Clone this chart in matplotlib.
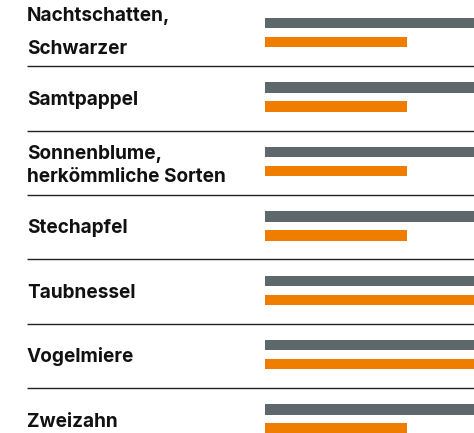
import matplotlib.pyplot as plt

plt.rcParams['font.family'] = ['Inter', 'DejaVu Sans']

# Unkräuter mit zwei Kennwerten je Art
weeds = ["Nachtschatten,\nSchwarzer", "Samtpappel",
         "Sonnenblume,\nherkömmliche Sorten", "Stechapfel",
         "Taubnessel", "Vogelmiere", "Zweizahn"]
grey_values = [3, 3, 3, 3, 3, 3, 3]
orange_values = [2, 2, 2, 2, 3, 3, 2]

GREY = "#5e686c"
ORANGE = "#ef7d00"

W, H = 474, 433
fig = plt.figure(figsize=(W / 100, H / 100), dpi=100)

# pixel-based frame for labels and separators
ax = fig.add_axes([0, 0, 1, 1])
ax.set_xlim(0, W)
ax.set_ylim(H, 0)
ax.axis("off")

# bar area starts at x=265
bar_left = 265
bx = fig.add_axes([bar_left / W, 0, 1 - bar_left / W, 1])
bx.set_xlim(0, 2.94)
bx.set_ylim(H, 0)
bx.axis("off")

top = 23.2
pitch = 64.4
bar_h = 10.5
FS = 13.7

for i, name in enumerate(weeds):
    g = top + i * pitch
    bx.barh(g, grey_values[i], height=bar_h, color=GREY, left=0)
    bx.barh(g + 19, orange_values[i], height=bar_h, color=ORANGE, left=0)

    lines = name.split("\n")
    if len(lines) == 1:
        ax.text(27, g + 17, name, fontsize=FS, fontweight="bold",
                color="#111111", va="baseline", ha="left")
    else:
        # first row has wider line spacing than the others
        gap = 33 if i == 0 else 23
        first = g - 2 if i == 0 else g + 7
        ax.text(27, first, lines[0], fontsize=FS, fontweight="bold",
                color="#111111", va="baseline", ha="left")
        ax.text(27, first + gap, lines[1], fontsize=FS, fontweight="bold",
                color="#111111", va="baseline", ha="left")

    if i < len(weeds) - 1:
        ax.plot([27, W], [g + 43, g + 43], color="#222222", lw=1.0,
                solid_capstyle="butt")

fig.savefig("out.png", dpi=100)
